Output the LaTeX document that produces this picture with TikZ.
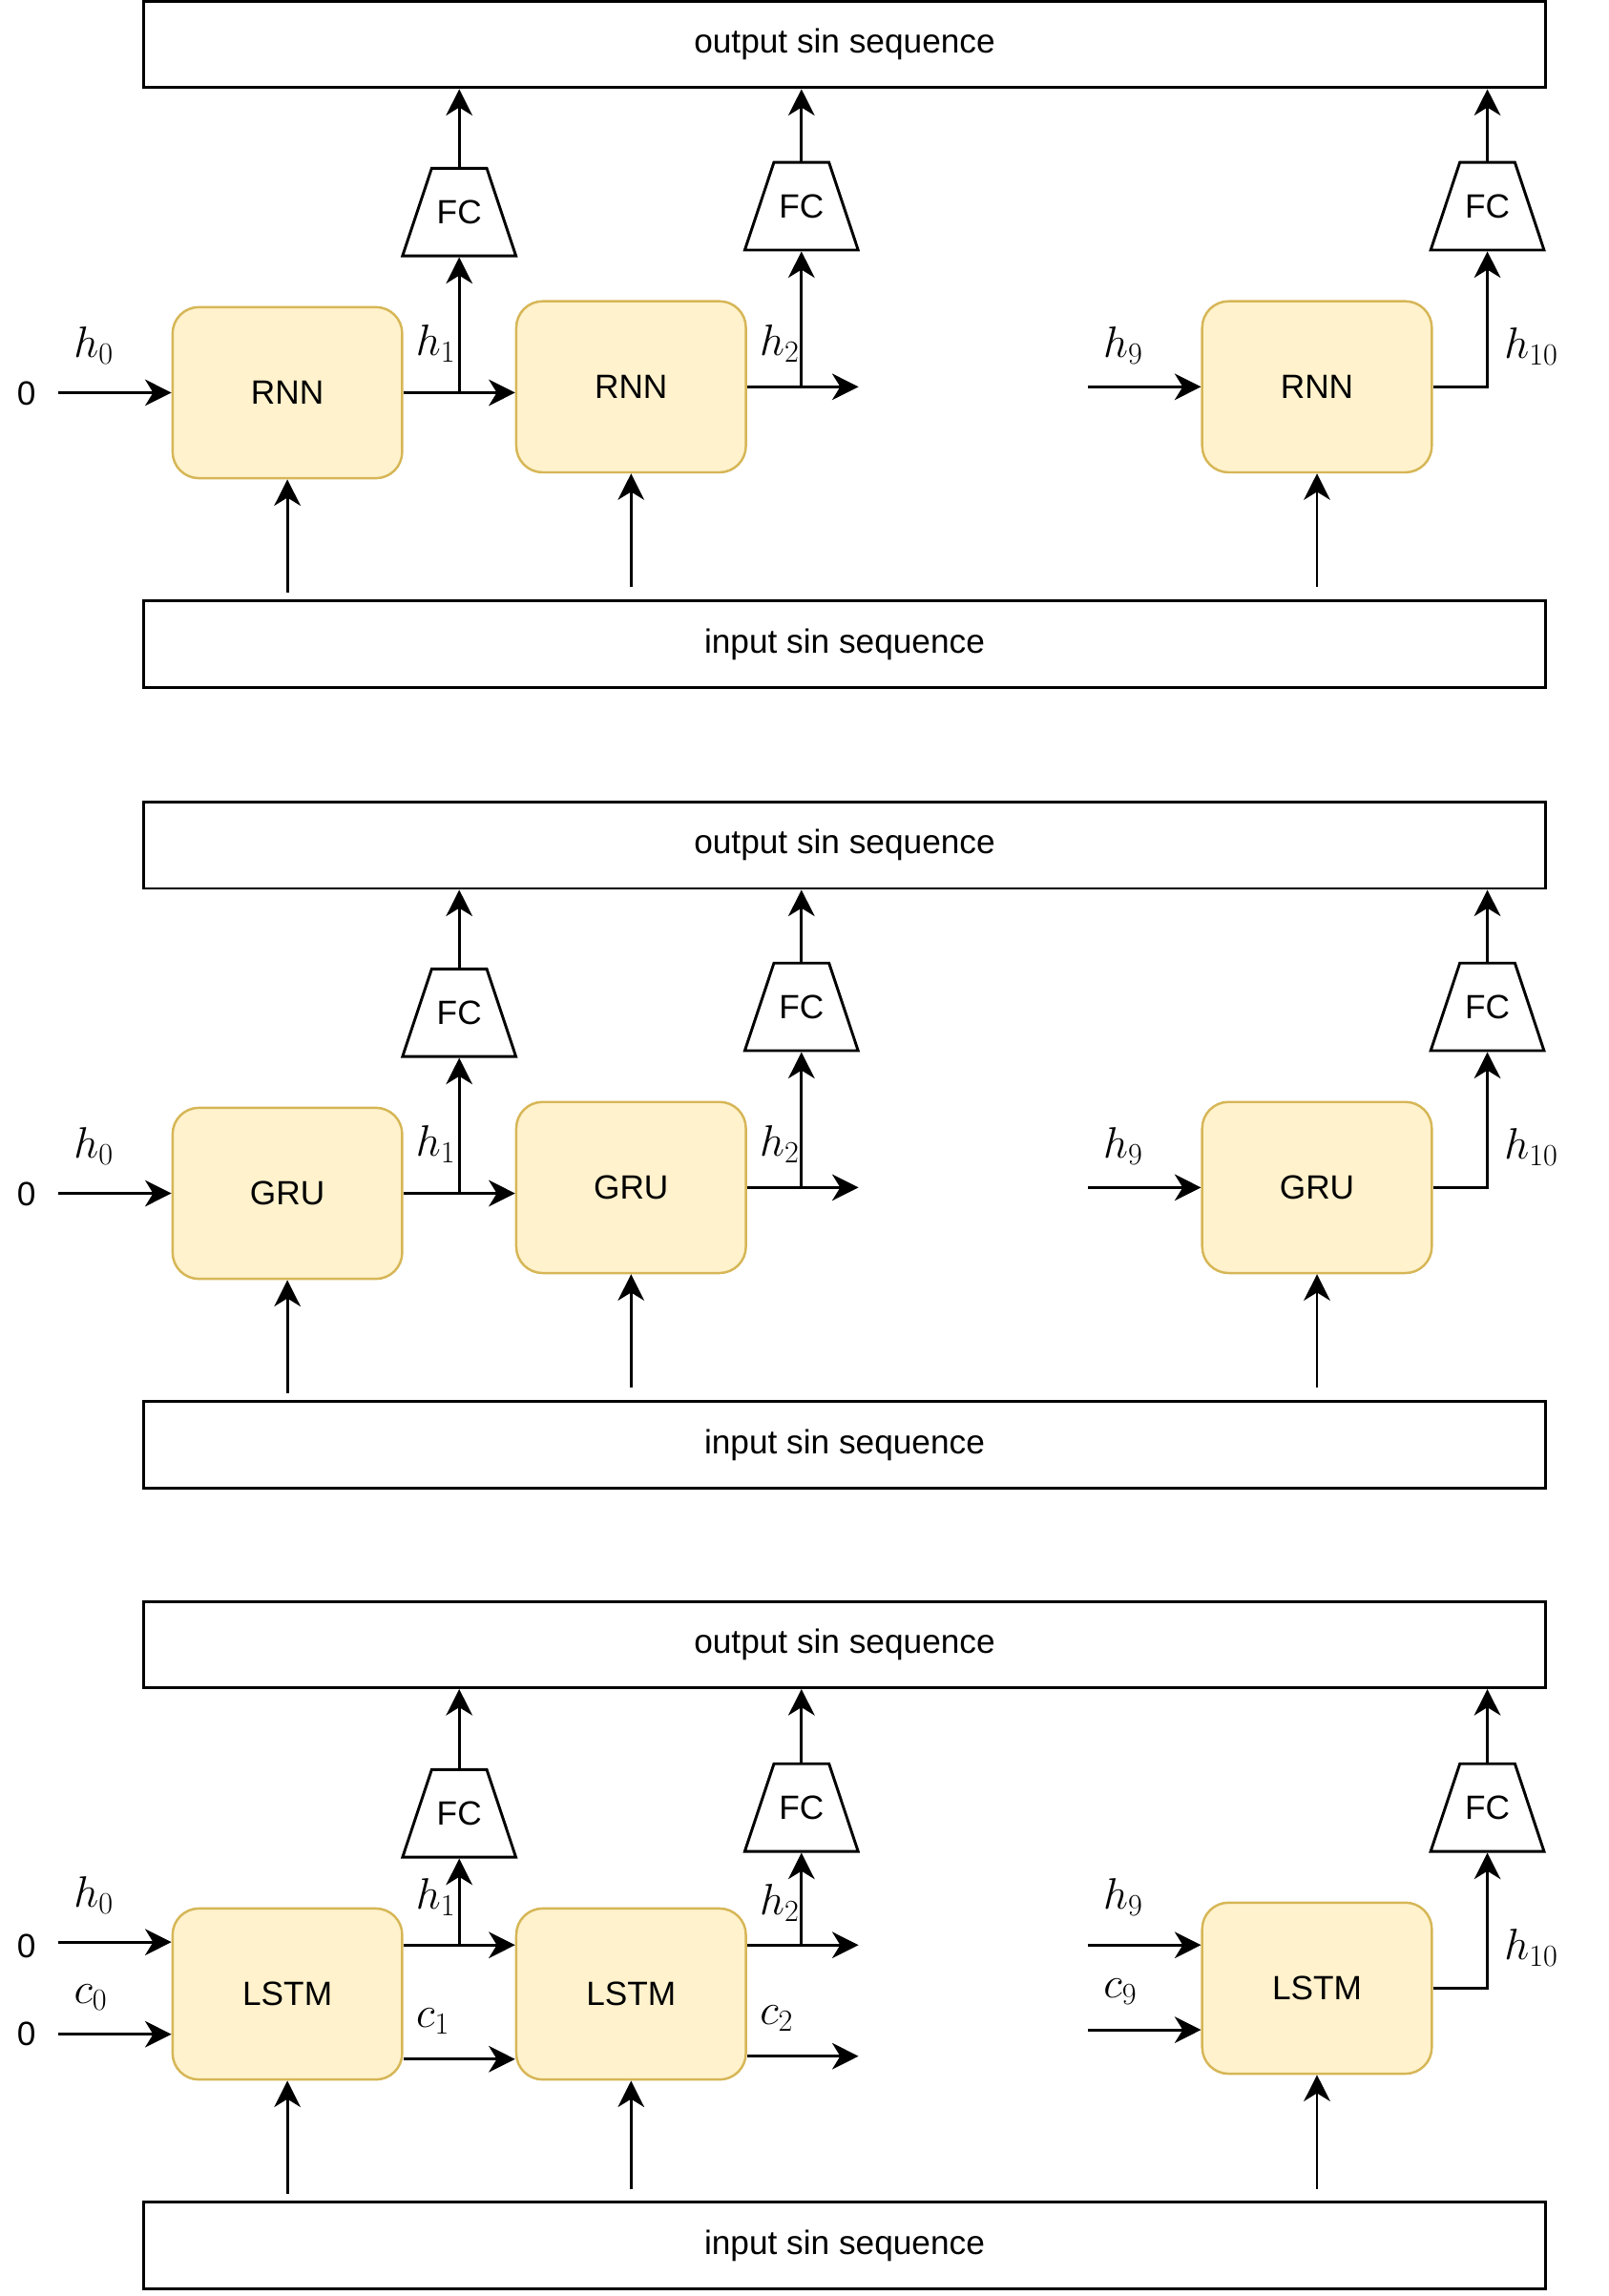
\RequirePackage{fix-cm}
\documentclass[tikz,border=0pt]{standalone}
\usepackage{amsmath}
\usepackage{fontspec}
\setmainfont{Liberation Sans}
\usetikzlibrary{arrows.meta,shapes.geometric}
\definecolor{cellfill}{HTML}{FFF2CC}
\definecolor{celldraw}{HTML}{D6B656}

\tikzset{
  seqbox/.style={draw, line width=1.9pt, minimum width=959pt, minimum height=59pt, inner sep=0pt, font=\fontsize{23}{28}\selectfont},
  cell/.style={draw=celldraw, fill=cellfill, line width=1.6pt, rounded corners=18pt, minimum width=157pt, minimum height=117pt, inner sep=0pt, font=\fontsize{23}{28}\selectfont},
  fcbox/.style={draw, line width=1.9pt, trapezium, trapezium angle=71.6, inner xsep=3.5pt, inner ysep=21.8pt, font=\fontsize{23}{28}\selectfont},
  arr/.style={-{Stealth[length=18pt,width=18pt,inset=5.5pt]}, line width=1.9pt},
  lbl/.style={inner sep=0pt, font=\fontsize{30}{36}\selectfont},
  txt/.style={inner sep=0pt, font=\fontsize{23}{28}\selectfont}
}

\begin{document}
\begin{tikzpicture}[x=1pt,y=1pt,yscale=-1,xscale=1]
\useasboundingbox (0,0) rectangle (1100,1570);

%RNN and GRU rows
\foreach \p/\cellname/\dy in {a/RNN/0,b/GRU/547.5}{
\begin{scope}[yshift=\dy pt]
%Shape: Rectangle
\node [seqbox] (out\p) at (577.5,30.5) {output sin sequence};
\node [seqbox] (in\p) at (577.5,440.5) {input sin sequence};
%Shape: Trapezoid
\node [fcbox] (fc1\p) at (314,145) {FC};
\node [fcbox] (fc2\p) at (548,141) {FC};
\node [fcbox] (fc3\p) at (1017,141) {FC};
%Shape: Rounded Rect
\node [cell] (c1\p) at (196.5,268.5) {\cellname};
\node [cell] (c2\p) at (431.5,264.5) {\cellname};
\node [cell] (c3\p) at (900.5,264.5) {\cellname};
% Text Node
\node [txt] (z\p) at (18,269) {0};
\node [lbl] (h0\p) at (64,236) {$h_0$};
\node [lbl] (h1\p) at (298,235) {$h_1$};
\node [lbl] (h2\p) at (533,235) {$h_2$};
\node [lbl] (h9\p) at (768,236) {$h_9$};
\node [lbl] (h10\p) at (1047,237) {$h_{10}$};
%free ends
\coordinate (s0\p) at (40,268.5);
\coordinate (s9\p) at (744,264.5);
\coordinate (e2\p) at (587,264.5);
\coordinate (i1\p) at (196.5,405);
\coordinate (i2\p) at (431.5,401);
\coordinate (i3\p) at (900.5,401);
%Straight Lines
\draw [arr] (s0\p) -- (c1\p.west);
\draw [arr] (c1\p.east) -- (c1\p.east -| c2\p.west);
\draw [arr] (fc1\p.south |- c1\p.east) -- (fc1\p.south);
\draw [arr] (c2\p.east) -- (e2\p);
\draw [arr] (fc2\p.south |- c2\p.east) -- (fc2\p.south);
\draw [arr] (s9\p) -- (c3\p.west);
\draw [arr] (c3\p.east) -| (fc3\p.south);
\draw [arr] (fc1\p.north) -- (fc1\p.north |- out\p.south);
\draw [arr] (fc2\p.north) -- (fc2\p.north |- out\p.south);
\draw [arr] (fc3\p.north) -- (fc3\p.north |- out\p.south);
\draw [arr] (i1\p) -- (c1\p.south);
\draw [arr] (i2\p) -- (c2\p.south);
\draw [arr] (i3\p) -- (c3\p.south);
\end{scope}
}

%LSTM row
%Shape: Rectangle
\node [seqbox] (outc) at (577.5,1124.5) {output sin sequence};
\node [seqbox] (inc) at (577.5,1535.5) {input sin sequence};
%Shape: Trapezoid
\node [fcbox] (fc1c) at (314,1240) {FC};
\node [fcbox] (fc2c) at (548,1236) {FC};
\node [fcbox] (fc3c) at (1017,1236) {FC};
%Shape: Rounded Rect
\node [cell] (c1c) at (196.5,1363.5) {LSTM};
\node [cell] (c2c) at (431.5,1363.5) {LSTM};
\node [cell] (c3c) at (900.5,1359.5) {LSTM};
% Text Node
\node [txt] (zh) at (18,1331) {0};
\node [txt] (zc) at (18,1391) {0};
\node [lbl] (h0c) at (64,1296) {$h_0$};
\node [lbl] (cc0) at (62,1366) {$c_0$};
\node [lbl] (h1c) at (298,1297) {$h_1$};
\node [lbl] (cc1) at (296,1382) {$c_1$};
\node [lbl] (h2c) at (533,1301) {$h_2$};
\node [lbl] (cc2) at (531,1380) {$c_2$};
\node [lbl] (h9c) at (768,1297) {$h_9$};
\node [lbl] (cc9) at (766,1362) {$c_9$};
\node [lbl] (h10c) at (1047,1332) {$h_{10}$};
%free ends
\coordinate (sh0) at (40,1328);
\coordinate (sc0) at (40,1391);
\coordinate (sh9) at (744,1330);
\coordinate (sc9) at (744,1388);
\coordinate (eh2) at (587,1330);
\coordinate (ec1) at (275,1408);
\coordinate (ec2) at (587,1406);
\coordinate (i1c) at (196.5,1500);
\coordinate (i2c) at (431.5,1497);
\coordinate (i3c) at (900.5,1497);
%Straight Lines
\draw [arr] (sh0) -- (sh0 -| c1c.west);
\draw [arr] (sc0) -- (sc0 -| c1c.west);
\draw [arr] (c1c.east |- sh9) -- (c2c.west |- sh9);
\draw [arr] (fc1c.south |- sh9) -- (fc1c.south);
\draw [arr] (c1c.east |- ec1) -- (c2c.west |- ec1);
\draw [arr] (c2c.east |- eh2) -- (eh2);
\draw [arr] (fc2c.south |- eh2) -- (fc2c.south);
\draw [arr] (c2c.east |- ec2) -- (ec2);
\draw [arr] (sh9) -- (sh9 -| c3c.west);
\draw [arr] (sc9) -- (sc9 -| c3c.west);
\draw [arr] (c3c.east) -| (fc3c.south);
\draw [arr] (fc1c.north) -- (fc1c.north |- outc.south);
\draw [arr] (fc2c.north) -- (fc2c.north |- outc.south);
\draw [arr] (fc3c.north) -- (fc3c.north |- outc.south);
\draw [arr] (i1c) -- (c1c.south);
\draw [arr] (i2c) -- (c2c.south);
\draw [arr] (i3c) -- (c3c.south);

\end{tikzpicture}
\end{document}
